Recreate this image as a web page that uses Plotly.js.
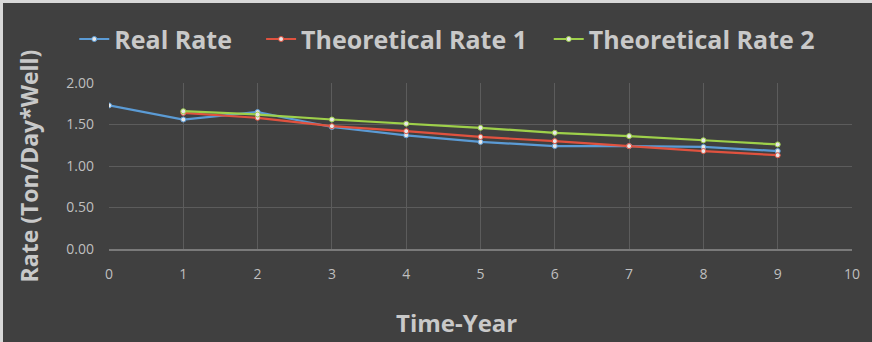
<!DOCTYPE html>
<html>
<head>
<meta charset="utf-8">
<script src="https://cdn.plot.ly/plotly-3.0.1.min.js"></script>
<style>
html,body{margin:0;padding:0;background:#d9d9d9;}
#chart{position:absolute;left:3px;top:3px;width:869px;height:339px;}
</style>
</head>
<body>
<div id="chart"></div>
<script>
const years = [0,1,2,3,4,5,6,7,8,9];
const yearsTheo = [1,2,3,4,5,6,7,8,9];
const realRate = [1.73,1.56,1.65,1.47,1.37,1.29,1.24,1.24,1.23,1.18];
const theoRate1 = [1.64,1.58,1.48,1.42,1.35,1.30,1.24,1.18,1.13];
const theoRate2 = [1.66,1.62,1.56,1.51,1.46,1.40,1.36,1.31,1.26];
const seriesNames = ["Real Rate","Theoretical Rate 1","Theoretical Rate 2"];
const xTicks = [0,1,2,3,4,5,6,7,8,9,10];
const yTicks = [0,0.5,1,1.5,2];

const mk = (x,y,name,color,lg)=>({
  x:x,y:y,name:name,type:'scatter',mode:'lines+markers',legend:lg,
  line:{color:color,width:2.2},
  marker:{color:'#e8e8e8',size:5,line:{color:color,width:1}}
});

const data = [
  mk(years,realRate,seriesNames[0],'#5b9bd5','legend'),
  mk(yearsTheo,theoRate1,seriesNames[1],'#e0523f','legend2'),
  mk(yearsTheo,theoRate2,seriesNames[2],'#9ed04a','legend3')
];

const lgFont = {size:25,color:'#c9c9c9',family:'"Open Sans", sans-serif',weight:'bold'};
const mkLegend = (x)=>({orientation:'h',x:x,xref:'container',xanchor:'left',
  y:0.893,yref:'container',yanchor:'middle',font:lgFont,bgcolor:'rgba(0,0,0,0)'});

const layout = {
  width:869,height:339,
  paper_bgcolor:'#404040',plot_bgcolor:'#404040',
  margin:{l:106,r:20,t:80,b:93,autoexpand:false},
  font:{family:'"Open Sans", sans-serif',color:'#bfbfbf'},
  showlegend:true,
  legend:mkLegend(0.082),
  legend2:mkLegend(0.297),
  legend3:mkLegend(0.628),
  xaxis:{range:[0,10],tickvals:xTicks,ticktext:xTicks.map(String),automargin:false,
    showgrid:true,gridcolor:'#5c5c5c',gridwidth:1,zeroline:false,
    showline:true,linecolor:'#7a7a7a',linewidth:1.5,ticks:'',ticklabelstandoff:12,
    tickfont:{size:14,color:'#bfbfbf'}},
  yaxis:{range:[0,2],tickvals:yTicks,ticktext:yTicks.map(v=>v.toFixed(2)),automargin:false,
    showgrid:true,gridcolor:'#5c5c5c',gridwidth:1,zeroline:false,
    showline:false,ticks:'',ticklabelstandoff:14,
    tickfont:{size:14,color:'#bfbfbf'},
    title:{text:'Rate (Ton/Day*Well)',font:{size:23,color:'#c9c9c9',weight:'bold'},standoff:21}},
  annotations:[{text:'Time-Year',xref:'paper',yref:'paper',x:0.468,y:-0.44,
    xanchor:'center',yanchor:'middle',showarrow:false,
    font:{size:24,color:'#c9c9c9',weight:'bold'}}]
};

Plotly.newPlot('chart',data,layout,{displayModeBar:false,staticPlot:true});
</script>
</body>
</html>
